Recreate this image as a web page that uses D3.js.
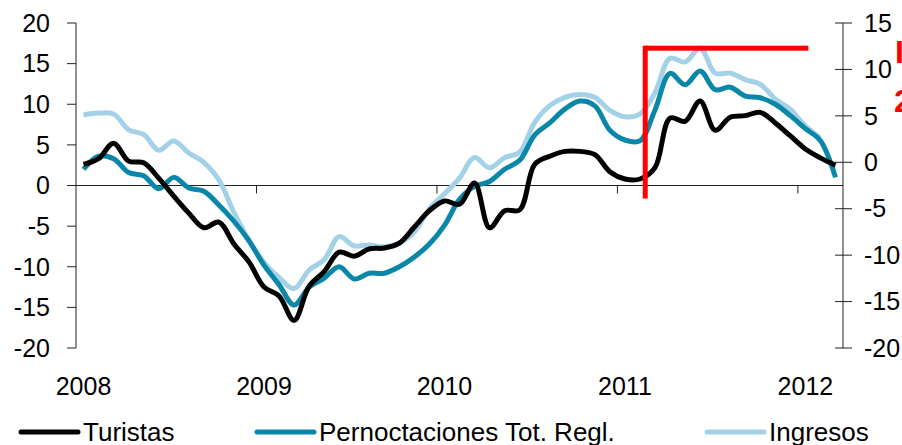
<!doctype html>
<meta charset="utf-8">
<style>
  body { margin: 0; background: #fff; }
  text { font-family: "Liberation Sans", Arial, sans-serif; }
</style>
<body>
<script src="https://d3js.org/d3.v7.min.js"></script>
<script>
// monthly series, Jan 2008 .. Mar 2012
var months = d3.range(51).map(function(i){ return new Date(2008, i, 1); });

// left axis
var turistas = [2.6, 3.3, 5.2, 3.0, 2.8, 0.9, -1.3, -3.4, -5.2, -4.5, -7.2, -9.4,
  -12.5, -13.6, -16.6, -12.4, -10.6, -8.2, -8.7, -7.8, -7.7, -7.1, -5.1, -3.1,
  -1.9, -2.3, 0.3, -5.2, -3.1, -3.0, 2.6, 3.6, 4.2, 4.2, 3.8, 1.7,
  0.8, 0.8, 2.2, 8.3, 7.9, 10.4, 6.8, 8.4, 8.6, 9.0, 7.7, 6.1,
  4.5, 3.4, 2.5];

var pernoctaciones = [2.0, 3.6, 3.3, 1.6, 1.2, -0.4, 1.0, -0.3, -0.7, -2.4, -4.4, -6.8,
  -9.8, -12.2, -14.7, -12.5, -11.4, -10.0, -11.5, -10.8, -10.8, -10.0, -8.8, -7.2,
  -4.9, -1.7, -0.1, 0.5, 2.0, 3.1, 6.2, 7.7, 9.4, 10.4, 9.8, 6.8,
  5.6, 5.5, 9.3, 13.8, 12.4, 14.1, 11.8, 12.1, 11.0, 10.8, 10.0, 8.6,
  7.0, 5.5, 1.0];

// right axis
var ingresos = [5.1, 5.3, 5.2, 3.5, 3.0, 1.3, 2.3, 1.0, 0.0, -1.9, -5.4, -8.4,
  -10.8, -12.4, -13.6, -11.6, -10.5, -8.0, -9.0, -8.9, -9.1, -8.7, -7.5, -5.0,
  -3.4, -1.7, 0.5, -0.6, 0.5, 1.1, 4.3, 6.1, 7.0, 7.3, 7.0, 5.6,
  4.9, 5.2, 7.5, 11.2, 10.8, 12.3, 9.6, 9.6, 8.9, 8.4, 6.8, 5.7,
  3.9, 2.6];

var leftTicks = [20, 15, 10, 5, 0, -5, -10, -15, -20];
var rightTicks = [15, 10, 5, 0, -5, -10, -15, -20];
var years = ['2008', '2009', '2010', '2011', '2012'];
var legendNames = ['Turistas', 'Pernoctaciones Tot. Regl.', 'Ingresos'];
var colors = ['#000000', '#0a87a8', '#a3d2e8'];

var W = 902, H = 445;
var svg = d3.select('body').append('svg').attr('width', W).attr('height', H);

var x = d3.scaleLinear().domain([0, months.length]).range([76, 843]);
var yL = d3.scaleLinear().domain([-20, 20]).range([348, 23]);
var yR = d3.scaleLinear().domain([-20, 15]).range([348, 23]);

// x axis line at zero
svg.append('line')
  .attr('x1', x(0)).attr('x2', x(months.length))
  .attr('y1', yL(0)).attr('y2', yL(0))
  .attr('stroke', '#222').attr('stroke-width', 1);

// year ticks
[12, 24, 36, 48].forEach(function(i){
  svg.append('line')
    .attr('x1', x(i)).attr('x2', x(i))
    .attr('y1', yL(0)).attr('y2', yL(0) + 8)
    .attr('stroke', '#222');
});

years.forEach(function(y, k){
  svg.append('text').text(y)
    .attr('x', x(k * 12 + 0.5)).attr('y', 395)
    .attr('text-anchor', 'middle')
    .style('font-size', '25px');
});

// left axis
svg.append('line').attr('x1', 76).attr('x2', 76).attr('y1', yL(20)).attr('y2', yL(-20)).attr('stroke', '#222');
leftTicks.forEach(function(t){
  svg.append('line').attr('x1', 67).attr('x2', 76).attr('y1', yL(t)).attr('y2', yL(t)).attr('stroke', '#222');
  svg.append('text').text(t)
    .attr('x', 50).attr('y', yL(t)).attr('dy', '0.35em')
    .attr('text-anchor', 'end')
    .style('font-size', '25px');
});

// right axis
svg.append('line').attr('x1', 843).attr('x2', 843).attr('y1', yR(15)).attr('y2', yR(-20)).attr('stroke', '#222');
rightTicks.forEach(function(t){
  svg.append('line').attr('x1', 835).attr('x2', 852).attr('y1', yR(t)).attr('y2', yR(t)).attr('stroke', '#222');
  svg.append('text').text(t)
    .attr('x', 864).attr('y', yR(t)).attr('dy', '0.35em')
    .style('font-size', '25px');
});

// lines
function lineFor(scale){
  return d3.line()
    .x(function(d, i){ return x(i + 0.5); })
    .y(function(d){ return scale(d); })
    .curve(d3.curveCatmullRom.alpha(0.5));
}

var series = [
  {values: ingresos, scale: yR, color: colors[2]},
  {values: pernoctaciones, scale: yL, color: colors[1]},
  {values: turistas, scale: yL, color: colors[0]}
];

series.forEach(function(s){
  svg.append('path')
    .datum(s.values)
    .attr('d', lineFor(s.scale))
    .attr('fill', 'none')
    .attr('stroke', s.color)
    .attr('stroke-width', 5)
    .attr('stroke-linejoin', 'round');
});

// red annotation (runs off the right edge, as in the source)
svg.append('rect')
  .attr('x', x(37.85) - 2.5).attr('y', yL(16.9) - 2.5)
  .attr('width', 5).attr('height', yL(-1.6) - yL(16.9) + 2.5)
  .attr('fill', '#ff0000');
svg.append('rect')
  .attr('x', x(37.85)).attr('y', yL(16.9) - 2.5)
  .attr('width', x(48.7) - x(37.85)).attr('height', 5)
  .attr('fill', '#ff0000');
svg.append('text').text('I').attr('x', 895).attr('y', 63)
  .style('font-size', '32px').style('font-weight', 'bold').attr('fill', '#ff0000');
svg.append('text').text('2011').attr('x', 894).attr('y', 112)
  .style('font-size', '32px').style('font-weight', 'bold').attr('fill', '#ff0000');

// legend
var legX = [21, 257, 707];
legendNames.forEach(function(name, k){
  svg.append('line')
    .attr('x1', legX[k]).attr('x2', legX[k] + 57)
    .attr('y1', 432).attr('y2', 432)
    .attr('stroke', colors[k]).attr('stroke-width', 5)
    .attr('stroke-linecap', 'round');
  svg.append('text').text(name)
    .attr('x', legX[k] + 62).attr('y', 441)
    .style('font-size', '26px');
});
</script>
</body>
